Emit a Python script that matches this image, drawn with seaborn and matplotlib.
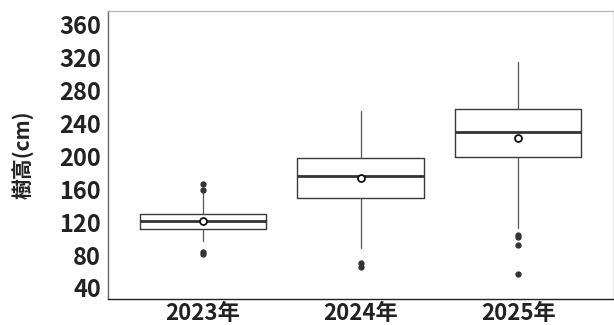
import matplotlib
matplotlib.use("Agg")
import matplotlib.pyplot as plt
import seaborn as sns

# Tree height summaries per survey year
years = ["2023年", "2024年", "2025年"]
q1 = [112, 149.5, 199]
median = [121.5, 176, 229.5]
q3 = [130.5, 198.5, 258]
whisker_low = [97, 88.5, 113]
whisker_high = [155, 255, 315]
means = [121, 173.5, 223]
outliers = [[166.5, 159, 84, 81.5], [71, 65.5], [104.5, 101.5, 92.5, 57.5]]
yticks = [40, 80, 120, 160, 200, 240, 280, 320, 360]

sns.set_theme(style="white")
plt.rcParams["font.family"] = ["Noto Sans CJK JP", "DejaVu Sans"]
plt.rcParams["font.weight"] = "bold"

fig = plt.figure(figsize=(6.14, 3.25), dpi=100)
ax = fig.add_axes([108 / 614, 1 - 299 / 325, 505 / 614, 288 / 325])

stats = []
for i, name in enumerate(years):
    stats.append({
        "label": name,
        "q1": q1[i], "med": median[i], "q3": q3[i],
        "whislo": whisker_low[i], "whishi": whisker_high[i],
        "mean": means[i], "fliers": outliers[i],
    })

ax.bxp(
    stats, positions=range(len(years)), widths=0.8,
    showmeans=True, showcaps=False,
    boxprops=dict(color="#3a3a3a", linewidth=1.0),
    medianprops=dict(color="#333333", linewidth=2.0),
    whiskerprops=dict(color="#555555", linewidth=0.9),
    flierprops=dict(marker="o", markerfacecolor="#333333", markeredgecolor="#333333",
                    markersize=3.5),
    meanprops=dict(marker="o", markerfacecolor="white", markeredgecolor="#111111",
                   markeredgewidth=1.3, markersize=5),
)

ax.set_xlim(-0.6, 2.6)
ax.set_ylim(26.6, 377)
ax.set_yticks(yticks)
ax.set_yticklabels([str(v) for v in yticks])
ax.set_xticks(range(len(years)))
ax.set_xticklabels(years)
ax.tick_params(axis="y", labelsize=17, colors="#222222", length=4, width=0.8,
               direction="out", pad=1)
ax.tick_params(axis="x", labelsize=16, colors="#222222", length=3, width=0.8,
               direction="out", pad=-1)
ax.tick_params(axis="both", color="#888888")
for lab in ax.get_xticklabels() + ax.get_yticklabels():
    lab.set_fontweight("bold")
ax.set_ylabel("樹高(cm)", fontsize=15, fontweight="bold", color="#222222")
ax.yaxis.set_label_coords(-0.148, 0.5)
ax.set_xlabel("")

ax.spines["left"].set_color("#666666")
ax.spines["bottom"].set_color("#222222")
ax.spines["top"].set_color("#bbbbbb")
ax.spines["right"].set_color("#e6e6e6")
for s in ax.spines.values():
    s.set_linewidth(1.0)
    s.set_visible(True)

fig.savefig("out.png", dpi=100)
